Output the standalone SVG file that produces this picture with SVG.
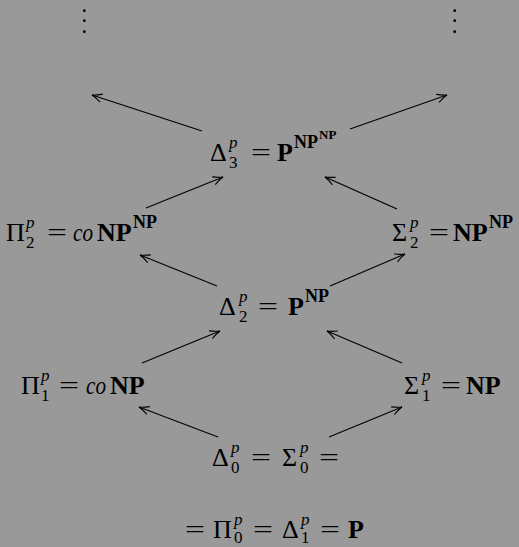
<svg xmlns="http://www.w3.org/2000/svg" width="519" height="547" viewBox="0 0 519 547">
<style>
text{font-family:"Liberation Serif","Times New Roman",serif;font-size:26px;fill:#000}
.i{font-style:italic}
.b{font-weight:bold}
.s{font-size:17px}
.sb{font-size:18px;font-weight:bold}
.ss{font-size:13px}
.c line{stroke:#000;stroke-width:1.1;fill:none;marker-end:url(#ah)}
</style>
<defs>
<marker id="ah" markerUnits="userSpaceOnUse" markerWidth="14" markerHeight="12" viewBox="-11 -6 13 12" refX="0" refY="0" orient="auto">
<path d="M-10,-4.2 Q-4,-1 0,0 Q-4,1 -10,4.2" fill="none" stroke="#000" stroke-width="1.1"/>
</marker>
</defs>
<rect width="519" height="547" fill="#999999"/>

<g id="dots-left" fill="#000">
<circle cx="84.3" cy="10.7" r="1.4"/><circle cx="84.3" cy="20.7" r="1.4"/><circle cx="84.3" cy="31.7" r="1.4"/>
</g>
<g id="dots-right" fill="#000">
<circle cx="454.7" cy="10.7" r="1.4"/><circle cx="454.7" cy="20.7" r="1.4"/><circle cx="454.7" cy="31.7" r="1.4"/>
</g>

<g id="connectors" class="c">
<line x1="202" y1="131" x2="92" y2="95"/>
<line x1="350" y1="129" x2="447" y2="95"/>
<line x1="146" y1="208" x2="223" y2="177"/>
<line x1="397" y1="209" x2="325" y2="177"/>
<line x1="217" y1="286" x2="140" y2="255"/>
<line x1="330" y1="286" x2="405" y2="254"/>
<line x1="142" y1="363" x2="220" y2="331"/>
<line x1="402" y1="363" x2="327" y2="331"/>
<line x1="218" y1="437" x2="139" y2="407"/>
<line x1="329" y1="437" x2="402" y2="407"/>
</g>

<g id="n-delta3">
<text x="210" y="161">Δ</text>
<text class="s i" x="229" y="148">p</text>
<text class="s" x="229" y="168">3</text>
<text x="251" y="161" textLength="20" lengthAdjust="spacingAndGlyphs">=</text>
<text class="b" x="277" y="161">P</text>
<text class="sb" x="294" y="148">NP</text>
<text class="ss b" x="319" y="139">NP</text>
</g>

<g id="n-pi2">
<text x="6" y="241">Π</text>
<text class="s i" x="26" y="228">p</text>
<text class="s" x="26" y="248">2</text>
<text x="47" y="241" textLength="20" lengthAdjust="spacingAndGlyphs">=</text>
<text class="i" x="73" y="241" textLength="20" lengthAdjust="spacingAndGlyphs">co</text>
<text class="b" x="97" y="241">NP</text>
<text class="sb" x="133" y="228">NP</text>
</g>

<g id="n-sigma2">
<text x="392" y="241">Σ</text>
<text class="s i" x="410" y="228">p</text>
<text class="s" x="410" y="248">2</text>
<text x="429" y="241" textLength="20" lengthAdjust="spacingAndGlyphs">=</text>
<text class="b" x="453" y="241">NP</text>
<text class="sb" x="489" y="228">NP</text>
</g>

<g id="n-delta2">
<text x="219" y="315">Δ</text>
<text class="s i" x="239" y="302">p</text>
<text class="s" x="239" y="322">2</text>
<text x="258" y="315" textLength="20" lengthAdjust="spacingAndGlyphs">=</text>
<text class="b" x="288" y="315">P</text>
<text class="sb" x="305" y="302">NP</text>
</g>

<g id="n-pi1">
<text x="21" y="394">Π</text>
<text class="s i" x="41" y="381">p</text>
<text class="s" x="41" y="401">1</text>
<text x="59" y="394" textLength="20" lengthAdjust="spacingAndGlyphs">=</text>
<text class="i" x="86" y="394" textLength="20" lengthAdjust="spacingAndGlyphs">co</text>
<text class="b" x="110" y="394">NP</text>
</g>

<g id="n-sigma1">
<text x="404" y="394">Σ</text>
<text class="s i" x="422" y="381">p</text>
<text class="s" x="422" y="401">1</text>
<text x="441" y="394" textLength="20" lengthAdjust="spacingAndGlyphs">=</text>
<text class="b" x="466" y="394">NP</text>
</g>

<g id="n-bottom">
<text x="212" y="466">Δ</text>
<text class="s i" x="231" y="453">p</text>
<text class="s" x="231" y="473">0</text>
<text x="251" y="466" textLength="20" lengthAdjust="spacingAndGlyphs">=</text>
<text x="282" y="466">Σ</text>
<text class="s i" x="300" y="453">p</text>
<text class="s" x="300" y="473">0</text>
<text x="319" y="466" textLength="20" lengthAdjust="spacingAndGlyphs">=</text>

<text x="185" y="538" textLength="20" lengthAdjust="spacingAndGlyphs">=</text>
<text x="213" y="538">Π</text>
<text class="s i" x="234" y="525">p</text>
<text class="s" x="234" y="543">0</text>
<text x="253" y="538" textLength="20" lengthAdjust="spacingAndGlyphs">=</text>
<text x="282" y="538">Δ</text>
<text class="s i" x="301" y="525">p</text>
<text class="s" x="301" y="543">1</text>
<text x="320" y="538" textLength="20" lengthAdjust="spacingAndGlyphs">=</text>
<text class="b" x="348" y="538">P</text>
</g>
</svg>
